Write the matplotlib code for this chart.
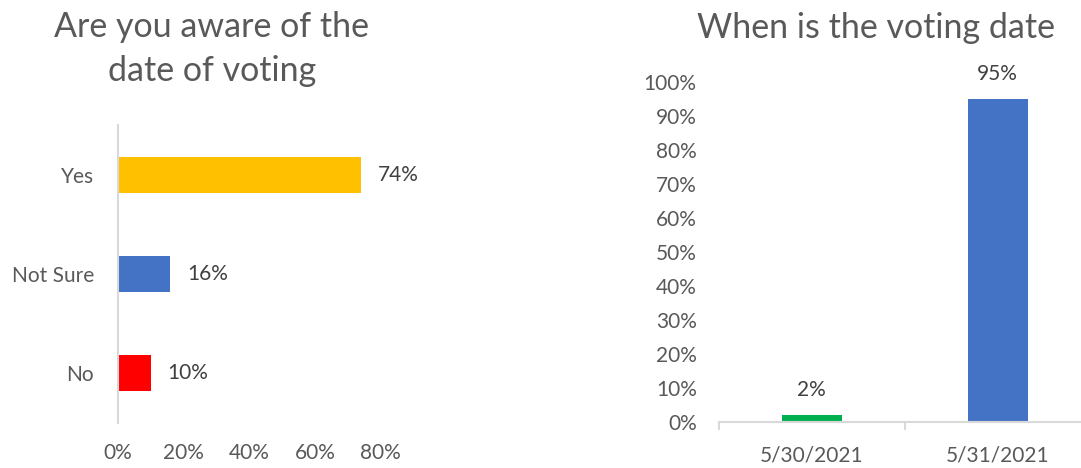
import matplotlib.pyplot as plt
from matplotlib.ticker import PercentFormatter

plt.rcParams['font.family'] = ['Lato', 'DejaVu Sans']

# left panel: awareness of the voting date
aware_labels = ['Yes', 'Not Sure', 'No']
aware_values = [0.74, 0.16, 0.10]
aware_colors = ['#FFC000', '#4472C4', '#FF0000']

# right panel: which date people think it is
date_labels = ['5/30/2021', '5/31/2021']
date_values = [0.02, 0.95]
date_colors = ['#00B050', '#4472C4']

axis_grey = '#D9D9D9'
tick_grey = '#595959'
label_grey = '#404040'
fs = 15

fig = plt.figure(figsize=(10.81, 4.68), dpi=100)

# ---- horizontal bars
ax1 = fig.add_axes([0.109, 0.096, 0.243, 0.637])
ypos = list(range(len(aware_labels)))[::-1]
ax1.barh(ypos, aware_values, height=0.36, color=aware_colors)
ax1.set_xlim(0, 0.8)
ax1.set_ylim(-0.5, 2.5)
ax1.set_xticks([0, 0.2, 0.4, 0.6, 0.8])
ax1.xaxis.set_major_formatter(PercentFormatter(1.0, decimals=0))
ax1.set_yticks(ypos)
ax1.set_yticklabels(aware_labels)
for s in ['top', 'right', 'bottom']:
    ax1.spines[s].set_visible(False)
ax1.spines['left'].set_color(axis_grey)
ax1.spines['left'].set_linewidth(1.5)
ax1.tick_params(axis='both', length=0, labelsize=fs, colors=tick_grey)
ax1.tick_params(axis='y', pad=17)
ax1.tick_params(axis='x', pad=14)
for y, v in zip(ypos, aware_values):
    ax1.annotate(f'{v:.0%}', (v, y), xytext=(17, 0), textcoords='offset pixels',
                 ha='left', va='center', fontsize=fs, color=label_grey)
fig.text(0.196, 0.895, 'Are you aware of the\ndate of voting', ha='center', va='center',
         fontsize=24.5, color=tick_grey, linespacing=1.45)

# ---- vertical bars
ax2 = fig.add_axes([0.665, 0.098, 0.344, 0.726])
xpos = list(range(len(date_labels)))
ax2.bar(xpos, date_values, width=0.32, color=date_colors)
ax2.set_xlim(-0.5, 1.5)
ax2.set_ylim(0, 1.0)
ax2.set_yticks([i / 10 for i in range(11)])
ax2.yaxis.set_major_formatter(PercentFormatter(1.0, decimals=0))
ax2.set_xticks(xpos)
ax2.set_xticklabels(date_labels)
ax2.set_xticks([-0.5, 0.5, 1.5], minor=True)
for s in ['top', 'right', 'left']:
    ax2.spines[s].set_visible(False)
ax2.spines['bottom'].set_color(axis_grey)
ax2.spines['bottom'].set_linewidth(1.5)
ax2.tick_params(axis='both', which='major', length=0, labelsize=fs, colors=tick_grey)
ax2.tick_params(axis='x', which='minor', length=6, width=1.5, color=axis_grey)
ax2.tick_params(axis='y', pad=16)
ax2.tick_params(axis='x', which='major', pad=17)
for x, v in zip(xpos, date_values):
    ax2.annotate(f'{v:.0%}', (x, v), xytext=(0, 15), textcoords='offset pixels',
                 ha='center', va='bottom', fontsize=fs, color=label_grey)
fig.text(0.81, 0.94, 'When is the voting date', ha='center', va='center',
         fontsize=24.5, color=tick_grey)

fig.savefig('out.png', dpi=100, facecolor='white')
